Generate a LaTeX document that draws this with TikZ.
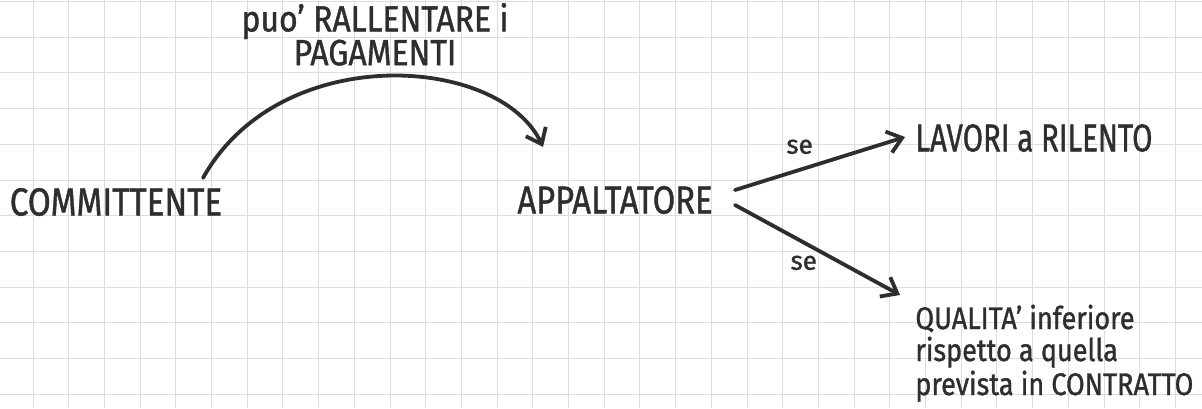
\documentclass[tikz,border=0pt]{standalone}
\usepackage{fontspec}
\setmainfont{Fira Sans}[FakeBold=1.2]
\usetikzlibrary{arrows.meta}
\definecolor{ink}{HTML}{2E2E2E}
\definecolor{gridc}{HTML}{DDDDDD}
\newcommand{\hw}[2][1]{\scalebox{#1}[1.3]{#2}}
\newcommand{\hq}[1]{\scalebox{1.04}[1.2]{#1}}
\begin{document}
\begin{tikzpicture}[x=0.5pt,y=-0.5pt,
  hand/.style={text=ink, inner sep=0pt, font=\fontsize{15}{17}\selectfont},
  small/.style={text=ink, inner sep=0pt, font=\fontsize{14}{16}\selectfont},
  qline/.style={text=ink, inner sep=0pt, anchor=base west, font=\fontsize{13}{15}\selectfont},
  tiny/.style={text=ink, inner sep=0pt, font=\fontsize{13}{15}\selectfont},
  conn/.style={draw=ink, line width=1.9pt, line cap=round,
    -{Straight Barb[length=7pt,width=11pt,line width=1.9pt]}}
  ]
  \useasboundingbox[fill=white] (0,0) rectangle (1202,408);
  % grid paper
  \foreach \i in {0,...,34} {
    \draw[gridc, line width=0.5pt] ({-2.7+35.7*\i},0) -- ({-2.7+35.7*\i},408);
  }
  \foreach \j in {0,...,11} {
    \draw[gridc, line width=0.5pt] (0,{1.5+35.7*\j}) -- (1202,{1.5+35.7*\j});
  }
  % nodes
  \node[hand] (comm) at (116,202) {\hw[1.11]{COMMITTENTE}};
  \node[hand] (app) at (615,200) {\hw[1.09]{APPALTATORE}};
  \node[hand, anchor=west] (lav) at (915,138) {\hw[0.98]{LAVORI a RILENTO}};
  \node[qline] (qual) at (915,329) {\hq{QUALITA' inferiore}};
  \node[qline] (qual2) at (915,361) {\hq{rispetto a quella}};
  \node[qline] (qual3) at (915,395) {\hq{prevista in CONTRATTO}};
  \node[small, align=center] (lbl) at (375,40)
    {\hw[1.14]{\begin{tabular}{@{}c@{}}puo' RALLENTARE i\\[-3pt] PAGAMENTI\end{tabular}}};
  % connector ends
  \coordinate (cs) at (203,178);
  \coordinate (ce) at (543,147);
  \coordinate (as1) at (735,190);
  \coordinate (as2) at (735,205);
  \coordinate (lt) at (905,137);
  \coordinate (qt) at (900,295);
  % connectors
  \draw[conn] (cs) .. controls (280,40) and (500,55) .. (ce);
  \draw[conn] (as1) -- node[tiny, above=7pt, pos=0.38] {se} (lt);
  \draw[conn] (as2) -- node[tiny, below left=1pt, pos=0.52] {se} (qt);
\end{tikzpicture}
\end{document}
